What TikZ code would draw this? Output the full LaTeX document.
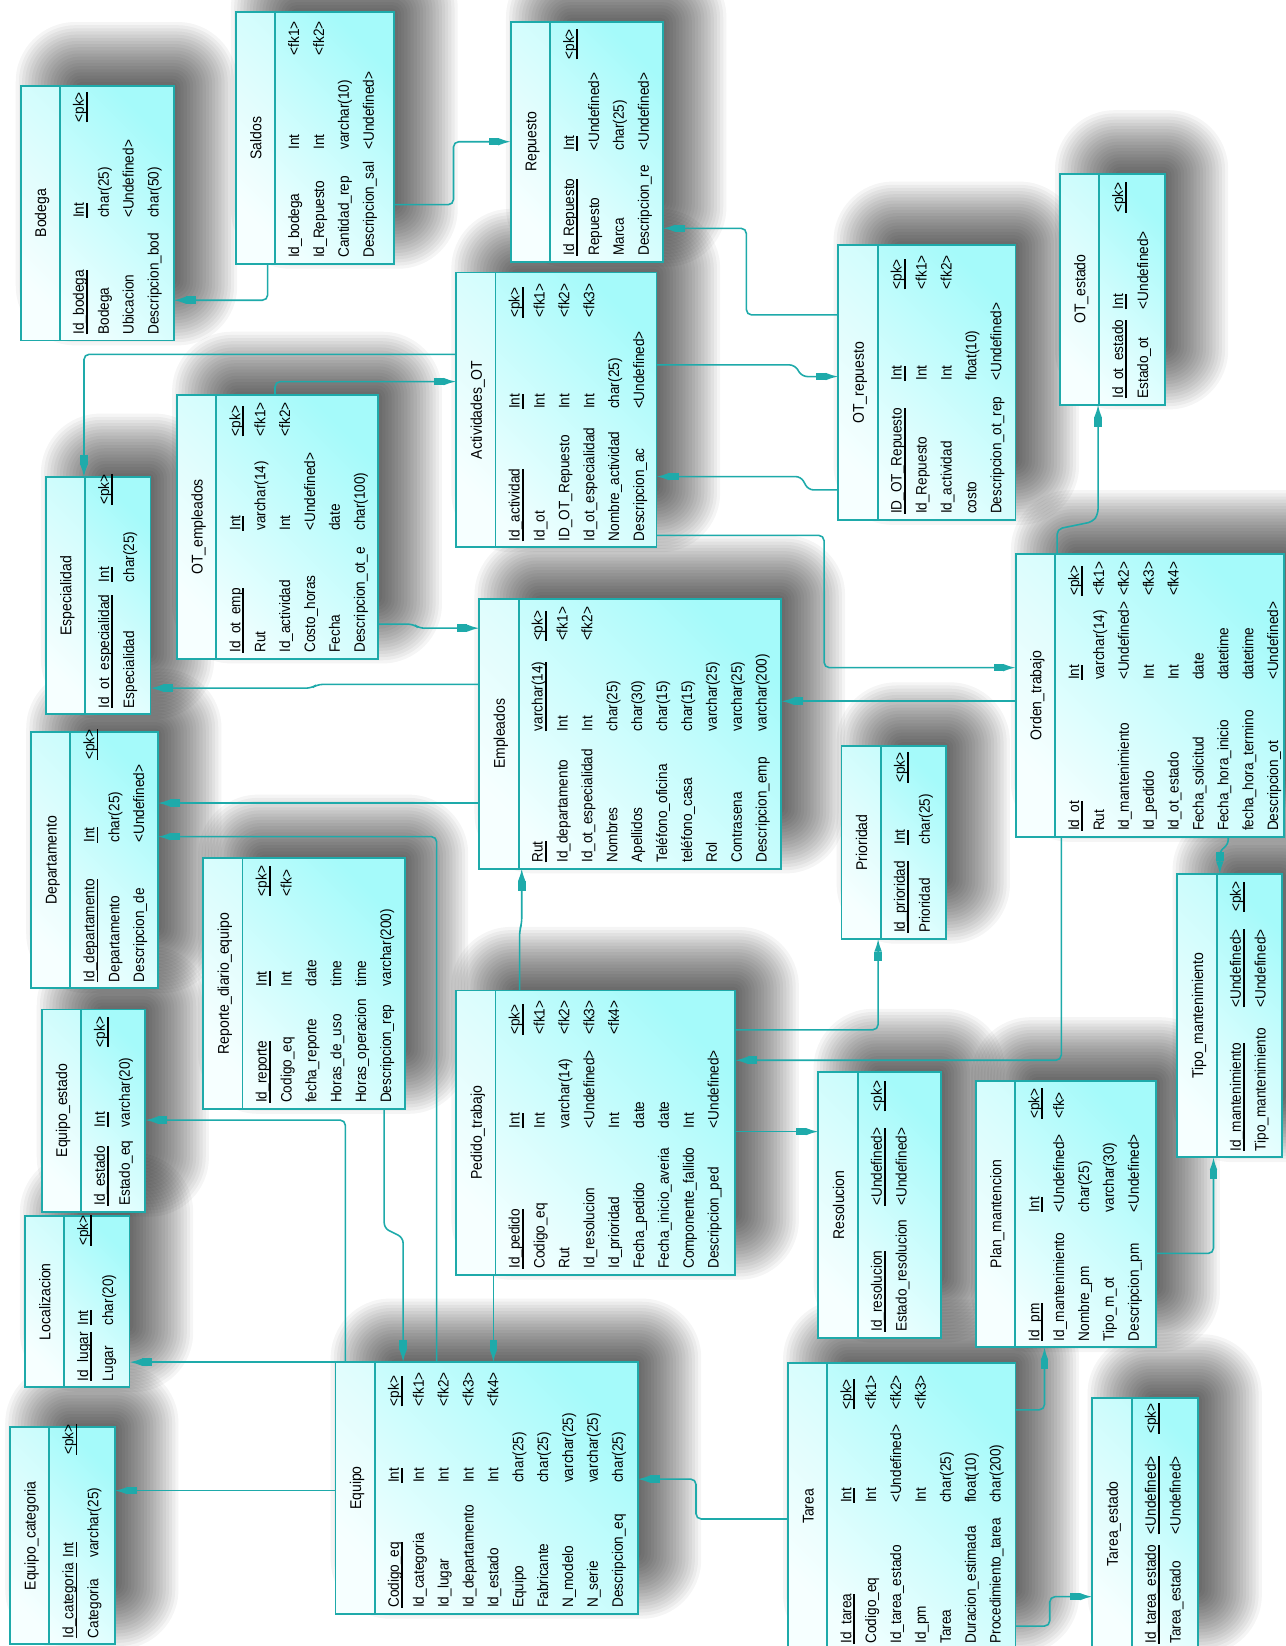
\documentclass[tikz,border=0pt]{standalone}
\usepackage{fontspec}
\newfontfamily\erfont[FakeStretch=0.9]{Liberation Sans}
\usetikzlibrary{arrows.meta,fit}

\definecolor{erteal}{RGB}{30,170,170}
\definecolor{bodylight}{RGB}{242,255,255}
\definecolor{bodycyan}{RGB}{165,250,250}

\newif\ifshadowpass

\tikzset{
  tblbody/.style={inner sep=0pt, top color=bodycyan, bottom color=bodylight, shading angle=-45},
  tblline/.style={draw=erteal, line width=0.9pt},
  tblshadow/.style={fill=black, opacity=0.04},
  tbltitle/.style={rotate=90, anchor=base, inner sep=0pt, font=\erfont\fontsize{7.4}{9}\selectfont},
  attr/.style={rotate=90, anchor=base west, inner sep=0pt, font=\erfont\fontsize{7.2}{8}\selectfont},
  rel/.style={draw=erteal, line width=0.75pt, rounded corners=2.5pt, -{Rectangle[length=4.5pt,width=3.6pt]Latex[length=6pt,width=3.6pt]}},
}

% key underline
\newcommand{\pkul}[1]{\setbox0=\hbox{#1}\rlap{\rule[-1.9pt]{\wd0}{0.9pt}}\box0}

% table: id, x0, y0, x1, y1, type offset, key offset, title, rows
\newcommand{\ertable}[9]{%
  \ifshadowpass
    \foreach \e [evaluate=\e as \rc using {max(1,(\e+30)*0.45)}] in {-27,-24,...,33}
      \fill[tblshadow, rounded corners=\rc pt] (#2+28-\e,#3-28-\e) rectangle (#4+28+\e,#5-28+\e);
  \else
    \node[tblbody, fit={(#2,#3) (#4,#5)}] (#1) {};
    \fill[white, opacity=0.35] (#2,#3) rectangle (#2+37,#5);
    \draw[tblline] (#2+37,#3) -- (#2+37,#5);
    \draw[tblline] (#1.north west) rectangle (#1.south east);
    \node[tbltitle] (#1-title) at (#2+24,{(#3+#5)/2}) {#8};
    \foreach \nm/\ty/\ky/\pk [count=\rw from 0] in {#9} {
      \pgfmathsetmacro\xb{#2+60+\rw*23.7}
      \node[attr] (#1-n\rw) at (\xb,#5-5) {\ifnum\pk=1 \pkul{\nm}\else\nm\fi};
      \node[attr] (#1-t\rw) at (\xb,#5-#6) {\ifnum\pk=1 \pkul{\ty}\else\ty\fi};
      \node[attr] (#1-k\rw) at (\xb,#5-#7) {\ifnum\pk=1 \pkul{\ky}\else\ky\fi};
    }
  \fi
}

\begin{document}
\begin{tikzpicture}[x=0.5pt,y=-0.5pt]
  \useasboundingbox (0,0) rectangle (1225,1568);
  \fill[white] (0,0) rectangle (1225,1568);

  % shadows first, then the tables
  \foreach \pass in {1,0} {
  \ifnum\pass=1 \shadowpasstrue\else\shadowpassfalse\fi
  % stock side
  \ertable{bodega}{20}{82}{165}{324}{116}{207}{Bodega}{Id\_bodega/Int/<pk>/1, Bodega/char(25)/{}/0, Ubicacion/<Undefined>/{}/0, Descripcion\_bod/char(50)/{}/0}
  \ertable{saldos}{225}{12}{375}{251}{108}{198}{Saldos}{Id\_bodega/Int/<fk1>/0, Id\_Repuesto/Int/<fk2>/0, Cantidad\_rep/varchar(10)/{}/0, Descripcion\_sal/<Undefined>/{}/0}
  \ertable{repuesto}{487}{21}{631}{249}{105}{192}{Repuesto}{Id\_Repuesto/Int/<pk>/1, Repuesto/<Undefined>/{}/0, Marca/char(25)/{}/0, Descripcion\_re/<Undefined>/{}/0}
  \ertable{otrepuesto}{799}{234}{967}{495}{132}{219}{OT\_repuesto}{ID\_OT\_Repuesto/Int/<pk>/1, Id\_Repuesto/Int/<fk1>/0, Id\_actividad/Int/<fk2>/0, costo/float(10)/{}/0, Descripcion\_ot\_rep/<Undefined>/{}/0}
  \ertable{otestado}{1010}{166}{1109}{385}{90}{182}{OT\_estado}{Id\_ot\_estado/Int/<pk>/1, Estado\_ot/<Undefined>/{}/0}
  \ertable{actividades}{435}{260}{625}{521}{131}{218}{Actividades\_OT}{Id\_actividad/Int/<pk>/1, Id\_ot/Int/<fk1>/0, ID\_OT\_Repuesto/Int/<fk2>/0, Id\_ot\_especialidad/Int/<fk3>/0, Nombre\_actividad/char(25)/{}/0, Descripcion\_ac/<Undefined>/{}/0}
  \ertable{otempleados}{169}{377}{360}{627}{121}{211}{OT\_empleados}{Id\_ot\_emp/Int/<pk>/1, Rut/varchar(14)/<fk1>/0, Id\_actividad/Int/<fk2>/0, Costo\_horas/<Undefined>/{}/0, Fecha/date/{}/0, Descripcion\_ot\_e/char(100)/{}/0}
  % staff side
  \ertable{especialidad}{44}{455}{143}{680}{125}{199}{Especialidad}{Id\_ot\_especialidad/Int/<pk>/1, Especialidad/char(25)/{}/0}
  \ertable{departamento}{30}{698}{150}{941}{138}{217}{Departamento}{Id\_departamento/Int/<pk>/1, Departamento/char(25)/{}/0, Descripcion\_de/<Undefined>/{}/0}
  \ertable{ordentrabajo}{968}{528}{1223}{797}{149}{229}{Orden\_trabajo}{Id\_ot/Int/<pk>/1, Rut/varchar(14)/<fk1>/0, Id\_mantenimiento/<Undefined>/<fk2>/0, Id\_pedido/Int/<fk3>/0, Id\_ot\_estado/Int/<fk4>/0, Fecha\_solicitud/date/{}/0, Fecha\_hora\_inicio/datetime/{}/0, fecha\_hora\_termino/datetime/{}/0, Descripcion\_ot/<Undefined>/{}/0}
  \ertable{empleados}{457}{571}{744}{827}{130}{216}{Empleados}{Rut/varchar(14)/<pk>/1, Id\_departamento/Int/<fk1>/0, Id\_ot\_especialidad/Int/<fk2>/0, Nombres/char(25)/{}/0, Apellidos/char(30)/{}/0, Teléfono\_oficina/char(15)/{}/0, teléfono\_casa/char(15)/{}/0, Rol/varchar(25)/{}/0, Contrasena/varchar(25)/{}/0, Descripcion\_emp/varchar(200)/{}/0}
  \ertable{prioridad}{802}{711}{901}{894}{89}{148}{Prioridad}{Id\_prioridad/Int/<pk>/1, Prioridad/char(25)/{}/0}
  \ertable{tipomant}{1122}{833}{1221}{1102}{142}{233}{Tipo\_mantenimiento}{Id\_mantenimiento/<Undefined>/<pk>/1, Tipo\_mantenimiento/<Undefined>/{}/0}
  \ertable{resolucion}{780}{1022}{896}{1274}{125}{215}{Resolucion}{Id\_resolucion/<Undefined>/<pk>/1, Estado\_resolucion/<Undefined>/{}/0}
  \ertable{planmant}{930}{1030}{1101}{1283}{128}{217}{Plan\_mantencion}{Id\_pm/Int/<pk>/1, Id\_mantenimiento/<Undefined>/<fk>/0, Nombre\_pm/char(25)/{}/0, Tipo\_m\_ot/varchar(30)/{}/0, Descripcion\_pm/<Undefined>/{}/0}
  % equipment side
  \ertable{reporte}{194}{818}{385}{1056}{116}{202}{Reporte\_diario\_equipo}{Id\_reporte/Int/<pk>/1, Codigo\_eq/Int/<fk>/0, fecha\_reporte/date/{}/0, Horas\_de\_uso/time/{}/0, Horas\_operacion/time/{}/0, Descripcion\_rep/varchar(200)/{}/0}
  \ertable{pedido}{435}{944}{700}{1214}{139}{228}{Pedido\_trabajo}{Id\_pedido/Int/<pk>/1, Codigo\_eq/Int/<fk1>/0, Rut/varchar(14)/<fk2>/0, Id\_resolucion/<Undefined>/<fk3>/0, Id\_prioridad/Int/<fk4>/0, Fecha\_pedido/date/{}/0, Fecha\_inicio\_averia/date/{}/0, Componente\_fallido/Int/{}/0, Descripcion\_ped/<Undefined>/{}/0}
  \ertable{equipoestado}{40}{962}{138}{1154}{80}{156}{Equipo\_estado}{Id\_estado/Int/<pk>/1, Estado\_eq/varchar(20)/{}/0}
  \ertable{localizacion}{24}{1159}{123}{1321}{58}{134}{Localizacion}{Id\_lugar/Int/<pk>/1, Lugar/char(20)/{}/0}
  \ertable{equipocat}{10}{1360}{109}{1566}{82}{180}{Equipo\_categoria}{Id\_categoria/Int/<pk>/1, Categoria/varchar(25)/{}/0}
  \ertable{equipo}{320}{1298}{607}{1537}{124}{197}{Equipo}{Codigo\_eq/Int/<pk>/1, Id\_categoria/Int/<fk1>/0, Id\_lugar/Int/<fk2>/0, Id\_departamento/Int/<fk3>/0, Id\_estado/Int/<fk4>/0, Equipo/char(25)/{}/0, Fabricante/char(25)/{}/0, N\_modelo/varchar(25)/{}/0, N\_serie/varchar(25)/{}/0, Descripcion\_eq/char(25)/{}/0}
  \ertable{tarea}{751}{1299}{967}{1571}{139}{228}{Tarea}{Id\_tarea/Int/<pk>/1, Codigo\_eq/Int/<fk1>/0, Id\_tarea\_estado/<Undefined>/<fk2>/0, Id\_pm/Int/<fk3>/0, Tarea/char(25)/{}/0, Duracion\_estimada/float(10)/{}/0, Procedimiento\_tarea/char(200)/{}/0}
  \ertable{tareaestado}{1041}{1332}{1141}{1571}{109}{205}{Tarea\_estado}{Id\_tarea\_estado/<Undefined>/<pk>/1, Tarea\_estado/<Undefined>/{}/0}
  }

  % references
  \draw[rel] (saldos.south -| 255,0) |- (bodega.east |- 0,286);
  \draw[rel] (saldos.east |- 0,195) -- (432,195) -- (432,135) -- (repuesto.west |- 0,135);
  \draw[rel] (otrepuesto.west |- 0,300) -- (711,300) -- (711,217.5) -- (repuesto.east |- 0,217.5);
  \draw[rel] (actividades.east |- 0,347.6) -- (757,347.6) -- (764,358.7) -- (otrepuesto.west |- 0,358.7);
  \draw[rel] (otrepuesto.west |- 0,466.7) -- (770,466.7) -- (763,454) -- (actividades.east |- 0,454);
  \draw[rel] (actividades.east |- 0,510) -- (785,510) -- (785,636) -- (ordentrabajo.west |- 0,636);
  \draw[rel] (otempleados.north -| 262,0) |- (actividades.west |- 0,363.5);
  \draw[rel] (actividades.west |- 0,337.5) -| (especialidad.north -| 80,0);
  \draw[rel] (otempleados.east |- 0,594.6) -- (394,594.6) -- (399,598.4) -- (empleados.west |- 0,598.4);
  \draw[rel] (empleados.west |- 0,652) -- (302,652) -- (297,655.5) -- (especialidad.east |- 0,655.5);
  \draw[rel] (empleados.west |- 0,765) -- (departamento.east |- 0,765);
  \draw[rel] (equipo.north -| 416,0) |- (departamento.east |- 0,797);
  \draw[rel] (pedido.north -| 495,0) -- (495,886) -- (497,880) -- (empleados.south -| 497,0);
  \draw[rel] (ordentrabajo.south -| 1011,0) |- (pedido.east |- 0,1010);
  \draw[rel] (pedido.east |- 0,981) -| (prioridad.south -| 836.5,0);
  \draw[rel] (pedido.east |- 0,1078) -- (resolucion.west |- 0,1078);
  \draw[rel] (ordentrabajo.west |- 0,668) -- (empleados.east |- 0,668);
  \draw[rel] (ordentrabajo.north -| 1007,0) -- (1007,504) -- (1041,497) -- (1046,490) -- (otestado.south -| 1046,0);
  \draw[rel] (ordentrabajo.south -| 1170,0) -- (1170,805) -- (1162,810) -- (tipomant.north -| 1162,0);
  \draw[rel] (planmant.east |- 0,1194) -| (tipomant.south -| 1156,0);
  \draw[rel] (tarea.east |- 0,1343) -| (planmant.south -| 995,0);
  \draw[rel] (tarea.east |- 0,1549) -| (1000,1521) -- (tareaestado.west |- 0,1521);
  \draw[rel] (tarea.west |- 0,1447) -- (663,1447) -- (663,1409) -- (equipo.east |- 0,1409);
  \draw[rel] (equipo.west |- 0,1420) -- (equipocat.east |- 0,1420);
  \draw[rel] (equipo.north -| 334,0) -- (localizacion.east |- equipo.north);
  \draw[rel] (equipo.north -| 329,0) |- (equipoestado.east |- 0,1067);
  \draw[rel] (reporte.south -| 366,0) -- (366,1170) -- (384,1179) -- (equipo.north -| 384,0);
  \draw[rel] (pedido.south -| 470,0) -- (equipo.north -| 470,0);
\end{tikzpicture}
\end{document}
